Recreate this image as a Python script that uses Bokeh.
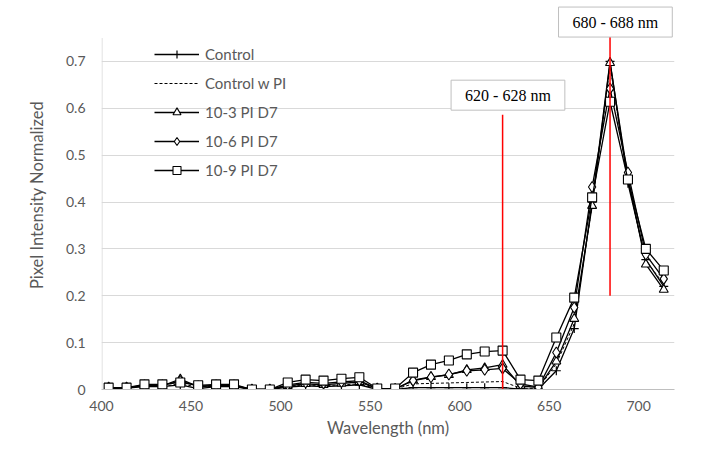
from bokeh.plotting import figure
from bokeh.models import Label, Range1d, Legend, LegendItem, FixedTicker
from bokeh.embed import file_html
from bokeh.resources import INLINE

# ---------------- data ----------------
wavelength = [404, 414, 424, 434, 444, 454, 464, 474, 484, 494, 504, 514, 524, 534, 544, 554,
              564, 574, 584, 594, 604, 614, 624, 634, 644, 654, 664, 674, 684, 694, 704, 714]
control = [0.002, 0.003, 0.006, 0.006, 0.010, 0.002, 0.006, 0.006, 0.000, 0.000, 0.005, 0.008,
           0.006, 0.008, 0.010, 0.000, 0.000, 0.004, 0.004, 0.004, 0.004, 0.004, 0.004, 0.001,
           0.001, 0.040, 0.130, 0.400, 0.700, 0.440, 0.277, 0.220]
control_pi = [0.003, 0.004, 0.007, 0.007, 0.012, 0.005, 0.007, 0.007, 0.000, 0.000, 0.007, 0.010,
              0.008, 0.010, 0.012, 0.001, 0.001, 0.012, 0.013, 0.014, 0.015, 0.016, 0.017, 0.003,
              0.002, 0.055, 0.140, 0.395, 0.690, 0.445, 0.275, 0.225]
pi_d7_3 = [0.003, 0.004, 0.008, 0.008, 0.022, 0.006, 0.008, 0.008, 0.000, 0.000, 0.008, 0.012,
           0.010, 0.013, 0.016, 0.002, 0.001, 0.020, 0.027, 0.031, 0.042, 0.046, 0.053, 0.008,
           0.004, 0.060, 0.151, 0.392, 0.697, 0.452, 0.267, 0.213]
pi_d7_6 = [0.004, 0.004, 0.009, 0.009, 0.018, 0.007, 0.009, 0.009, 0.000, 0.000, 0.010, 0.015,
           0.013, 0.016, 0.019, 0.002, 0.001, 0.019, 0.026, 0.032, 0.040, 0.042, 0.045, 0.012,
           0.005, 0.079, 0.175, 0.432, 0.642, 0.463, 0.288, 0.236]
pi_d7_9 = [0.004, 0.004, 0.011, 0.011, 0.015, 0.009, 0.011, 0.011, 0.000, 0.000, 0.015, 0.021,
           0.019, 0.023, 0.026, 0.002, 0.002, 0.036, 0.053, 0.062, 0.075, 0.081, 0.083, 0.021,
           0.019, 0.111, 0.196, 0.410, 0.614, 0.448, 0.300, 0.254]

x_ticks = [400, 450, 500, 550, 600, 650, 700]
y_ticks = [0, 0.1, 0.2, 0.3, 0.4, 0.5, 0.6, 0.7]
y_tick_labels = ["0", "0.1", "0.2", "0.3", "0.4", "0.5", "0.6", "0.7"]

# annotation markers (wavelength, line bottom, line top, box label, box position)
band_centers = [624, 684]
band_bottoms = [-0.02, 0.2]
band_tops = [0.586, 0.77]
band_labels = ["620 - 628 nm", "680 - 688 nm"]
band_label_x = [627, 687]
band_label_y = [0.628, 0.784]
axis_top = 0.75

FONT = "Lato"
GREY = "#595959"

p = figure(width=697, height=441, output_backend="svg", toolbar_location=None,
           x_range=Range1d(400, 720), y_range=Range1d(0, 0.83),
           min_border_left=101, min_border_right=23, min_border_top=0, min_border_bottom=52)
p.outline_line_color = None
p.background_fill_color = "white"
p.border_fill_color = "white"

# axes
for ax in (p.xaxis[0], p.yaxis[0]):
    ax.major_tick_line_color = None
    ax.minor_tick_line_color = None
    ax.major_tick_out = 0
    ax.major_tick_in = 0
    ax.minor_tick_out = 0
    ax.minor_tick_in = 0
    ax.major_label_text_font = FONT
    ax.major_label_text_font_size = "14px"
    ax.major_label_text_color = GREY
    ax.axis_label_text_font = FONT
    ax.axis_label_text_font_size = "16.5px"
    ax.axis_label_text_font_style = "normal"
    ax.axis_label_text_color = GREY

p.xaxis[0].ticker = FixedTicker(ticks=x_ticks)
p.yaxis[0].ticker = FixedTicker(ticks=y_ticks)
p.yaxis[0].major_label_overrides = {t: l for t, l in zip(y_ticks, y_tick_labels)}
p.xaxis[0].axis_label = "Wavelength (nm)"
p.yaxis[0].axis_label = "Pixel Intensity Normalized"
p.xaxis[0].axis_line_color = "#bfbfbf"
p.yaxis[0].axis_line_color = None
p.xaxis[0].major_label_standoff = 11
p.xaxis[0].axis_label_standoff = 4
p.yaxis[0].major_label_standoff = 16
p.yaxis[0].axis_label_standoff = 16

p.xgrid.grid_line_color = None
p.ygrid.grid_line_color = "#d9d9d9"
p.ygrid.grid_line_width = 1

# visible part of the value axis line (plot area ends at 0.75)
x0 = p.x_range.start + 0.3
p.segment(x0=[x0], y0=[0], x1=[x0], y1=[axis_top], line_color="#d9d9d9", line_width=1)

# series
items = []
lw = 1.3
r = p.line(wavelength, control, line_color="black", line_width=lw)
m = p.scatter(wavelength, control, marker="cross", size=9, line_color="black", line_width=1.2)
items.append(LegendItem(label="Control", renderers=[r, m]))

r = p.line(wavelength, control_pi, line_color="black", line_width=1, line_dash="3 2")
items.append(LegendItem(label="Control w PI", renderers=[r]))

r = p.line(wavelength, pi_d7_3, line_color="black", line_width=lw)
m = p.scatter(wavelength, pi_d7_3, marker="triangle", size=9, line_color="black",
              fill_color="white", line_width=1.1)
items.append(LegendItem(label="10-3 PI D7", renderers=[r, m]))

r = p.line(wavelength, pi_d7_6, line_color="black", line_width=lw)
m = p.scatter(wavelength, pi_d7_6, marker="diamond", size=11, line_color="black",
              fill_color="white", line_width=1.1)
items.append(LegendItem(label="10-6 PI D7", renderers=[r, m]))

r = p.line(wavelength, pi_d7_9, line_color="black", line_width=lw)
m = p.scatter(wavelength, pi_d7_9, marker="square", size=9, line_color="black",
              fill_color="white", line_width=1.1)
items.append(LegendItem(label="10-9 PI D7", renderers=[r, m]))

# red band lines
p.segment(x0=band_centers, y0=band_bottoms, x1=band_centers, y1=band_tops,
          line_color="#ff0000", line_width=1.5)

# band labels
for lx, ly, txt in zip(band_label_x, band_label_y, band_labels):
    lab = Label(x=lx, y=ly, text=txt, text_font="Liberation Serif", text_font_size="16px",
                text_color="black", text_align="center", text_baseline="middle",
                background_fill_color="white", border_line_color="#bfbfbf", border_line_width=1,
                padding=dict(left=14, right=14, top=7, bottom=6))
    p.add_layout(lab)

legend = Legend(items=items, location=(53, 209))
legend.border_line_alpha = 0
legend.background_fill_alpha = 0
legend.padding = 0
legend.margin = 0
legend.spacing = 9
legend.glyph_width = 45
legend.glyph_height = 20
legend.label_height = 20
legend.label_standoff = 6
legend.label_text_font = FONT
legend.label_text_font_size = "15px"
legend.label_text_color = GREY
p.add_layout(legend)

open("out.html", "w").write(file_html(p, INLINE))
